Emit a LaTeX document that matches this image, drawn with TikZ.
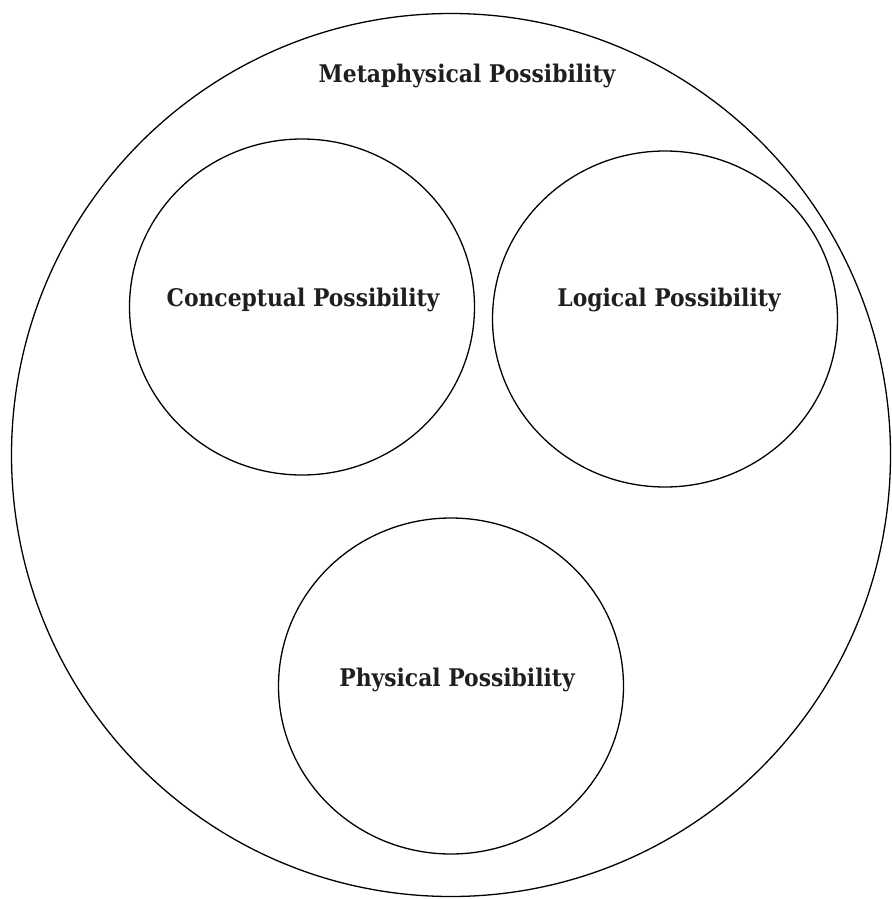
\documentclass[tikz,border=0pt]{standalone}
\usetikzlibrary{shapes.geometric}
\usepackage{fontspec}
\setmainfont{DejaVu Serif Condensed}
\begin{document}
\begin{tikzpicture}[x=1pt,y=-1pt,
  ring/.style={draw=black,line width=1.3pt,ellipse,inner sep=0pt},
  small/.style={ring,minimum width=345pt,minimum height=336pt},
  lbl/.style={font=\fontsize{24.3}{28}\selectfont\bfseries,text=black!88}]
\useasboundingbox (0,0) rectangle (891,899);
\node[ring,minimum width=879pt,minimum height=883pt] (meta) at (451,455) {};
\node[small] (conc) at (302,307) {};
\node[small] (logi) at (665,319) {};
\node[small] (phys) at (451,686) {};
\node[lbl] (metat) at (467,76) {Metaphysical Possibility};
\node[lbl] (conct) at (303,300) {Conceptual Possibility};
\node[lbl] (logit) at (669,300) {Logical Possibility};
\node[lbl] (physt) at (457,680) {Physical Possibility};
\end{tikzpicture}
\end{document}
